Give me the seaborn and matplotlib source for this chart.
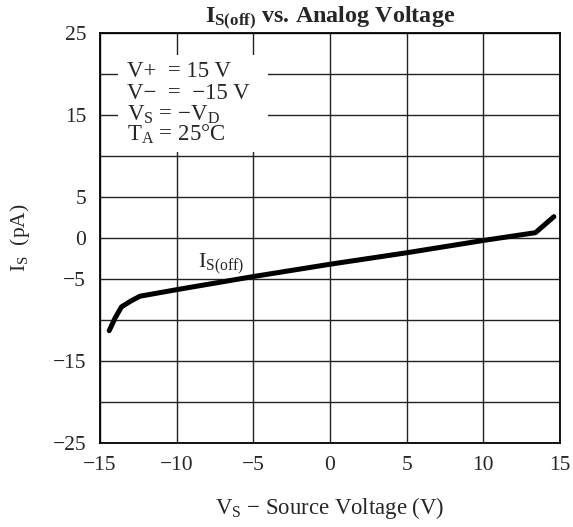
import matplotlib
matplotlib.use("Agg")
import matplotlib.pyplot as plt
import seaborn as sns
import pandas as pd
from matplotlib.patches import Rectangle

# ---- data ----
vs_source = [-14.4, -14.0, -13.6, -13.0, -12.4, -10.0, -5.0, 0.0, 5.0, 10.0, 13.4, 14.6]
is_off = [-11.3, -9.7, -8.4, -7.7, -7.1, -6.3, -4.7, -3.2, -1.8, -0.3, 0.65, 2.6]
x_ticks = [-15, -10, -5, 0, 5, 10, 15]
x_tick_labels = ["−15", "−10", "−5", "0", "5", "10", "15"]
y_ticks = [-25, -20, -15, -10, -5, 0, 5, 10, 15, 20, 25]
y_tick_labels = ["−25", "", "−15", "", "−5", "0", "5", "", "15", "", "25"]
conditions = ["V+  = 15 V", "V−  =  −15 V",
              r"V$_\mathrm{S}$ = −V$_\mathrm{D}$", r"T$_\mathrm{A}$ = 25°C"]
title = r"$\mathbf{I_{S(off)}}$ vs. Analog Voltage"
curve_label = r"I$_\mathrm{S(off)}$"
x_label = r"V$_\mathrm{S}$ − Source Voltage (V)"
y_label = r"I$_\mathrm{S}$  (pA)"

sns.set_theme(style="white")
plt.rcParams["font.family"] = ["Liberation Serif", "DejaVu Serif"]
plt.rcParams["mathtext.fontset"] = "custom"
plt.rcParams["mathtext.rm"] = "Liberation Serif"
plt.rcParams["mathtext.it"] = "Liberation Serif:italic"
plt.rcParams["mathtext.bf"] = "Liberation Serif:bold"
plt.rcParams["axes.unicode_minus"] = True

FS = 15.5
fig = plt.figure(figsize=(5.73, 5.27), dpi=100)
ax = fig.add_axes([100 / 573, 84 / 527, 460 / 573, 410 / 527])

df = pd.DataFrame({"VS": vs_source, "IS": is_off})
sns.lineplot(data=df, x="VS", y="IS", ax=ax, color="black", linewidth=3.6,
             solid_capstyle="round", solid_joinstyle="round", zorder=5, sort=False)

ax.set_xlim(-15, 15)
ax.set_ylim(-25, 25)
ax.set_xticks(x_ticks)
ax.set_xticklabels(x_tick_labels, fontsize=FS)
ax.set_yticks(y_ticks)
ax.set_yticklabels(y_tick_labels, fontsize=FS)
ax.tick_params(axis="both", length=0)
ax.tick_params(axis="x", pad=9)
ax.tick_params(axis="y", pad=10)
ax.grid(True, color="#222222", linewidth=1.0)
ax.set_axisbelow(True)
for s in ax.spines.values():
    s.set_color("black")
    s.set_linewidth(1.3)

# condition box
ax.add_patch(Rectangle((0.039, 0.71), 0.326, 0.236, transform=ax.transAxes,
                       facecolor="white", edgecolor="none", zorder=3))
for yy, t in zip([0.893, 0.839, 0.785, 0.737], conditions):
    ax.text(0.059, yy, t, transform=ax.transAxes, fontsize=16.5, va="baseline",
            ha="left", zorder=4)

ax.text(0.213, 0.429, curve_label, transform=ax.transAxes, fontsize=16,
        va="baseline", ha="left", zorder=4,
        bbox=dict(facecolor="white", edgecolor="none", pad=1))

ax.set_title(title, fontsize=17.4, fontweight="bold", pad=7)
ax.set_xlabel(x_label, fontsize=16.4, labelpad=15)
ax.set_ylabel(y_label, fontsize=FS, labelpad=15)

fig.savefig("out.png", dpi=100)
